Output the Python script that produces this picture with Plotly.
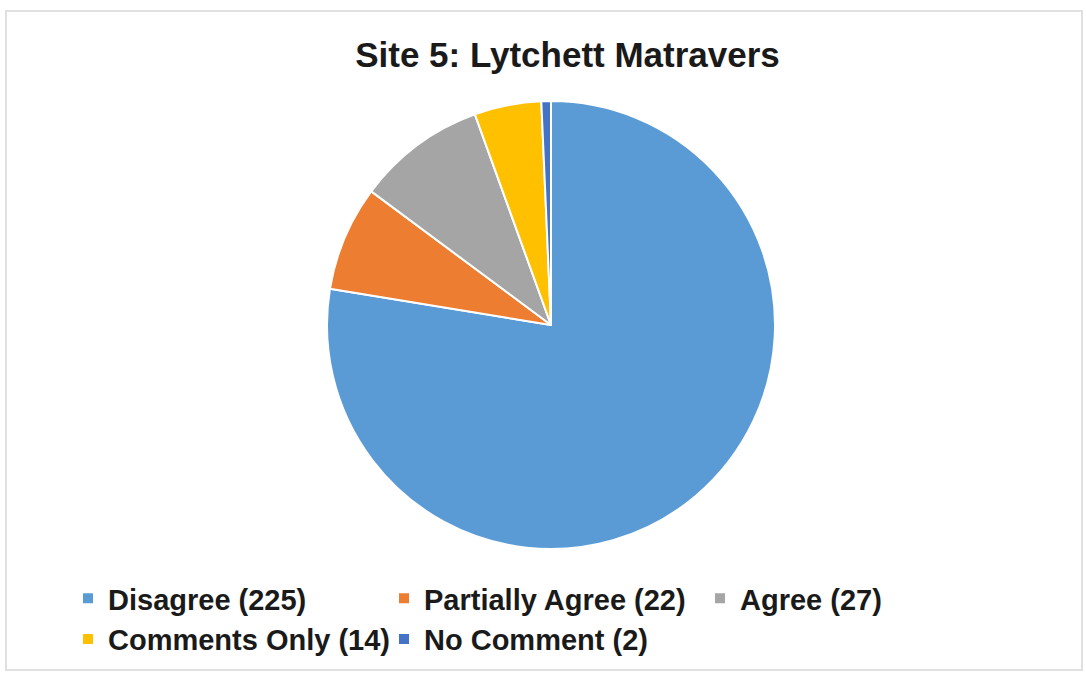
import plotly.graph_objects as go

categories = ["Disagree", "Partially Agree", "Agree", "Comments Only", "No Comment"]
values = [225, 22, 27, 14, 2]
colors = ["#5B9BD5", "#ED7D31", "#A5A5A5", "#FFC000", "#4472C4"]
title_text = "Site 5: Lytchett Matravers"

labels = [f"{c} ({v})" for c, v in zip(categories, values)]

W, H = 1086, 675
fig = go.Figure(go.Pie(
    labels=labels,
    values=values,
    sort=False,
    direction="clockwise",
    rotation=0,
    textinfo="none",
    hoverinfo="label+value",
    marker=dict(colors=colors, line=dict(color="white", width=2)),
    domain=dict(x=[327 / W, 775 / W], y=[1 - 549 / H, 1 - 101 / H]),
))

fig.update_layout(
    width=W, height=H,
    margin=dict(l=0, r=0, t=0, b=0),
    paper_bgcolor="white",
    plot_bgcolor="white",
    font=dict(family="Liberation Sans, Arial, sans-serif", color="#1a1a1a"),
    title=dict(text=f"<b>{title_text}</b>", x=567.5 / W, xanchor="center", y=1 - 55 / H, yanchor="middle",
               font=dict(size=35, color="#1a1a1a")),
    legend=dict(
        orientation="h",
        x=68 / W, xanchor="left",
        y=1 - 573 / H, yanchor="top",
        font=dict(size=29, color="#1a1a1a", weight="bold"),
        entrywidth=271, entrywidthmode="pixels",
        tracegroupgap=0,
        itemclick=False,
    ),
    shapes=[dict(type="rect", xref="paper", yref="paper",
                 x0=6 / W, x1=1082 / W, y0=1 - 670 / H, y1=1 - 11 / H,
                 line=dict(color="#e0e0e0", width=2), fillcolor="rgba(0,0,0,0)", layer="below")],
)

fig.write_html("out.html", config={"displayModeBar": False},
               post_script="document.body.style.margin='0px';document.body.style.padding='0px';")
